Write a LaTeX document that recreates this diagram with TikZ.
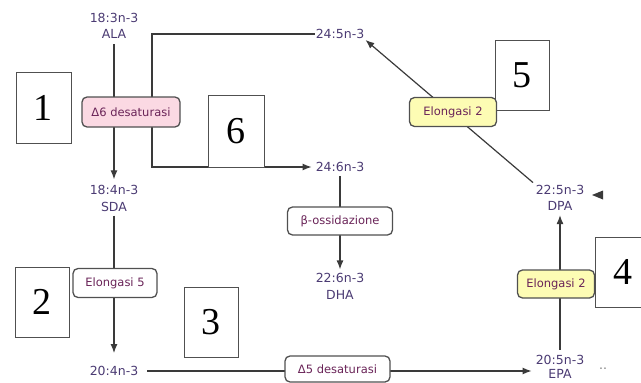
\documentclass[tikz,border=0pt]{standalone}
\usepackage{fontspec}
\setmainfont{Liberation Serif}
\newfontfamily\lblfont{DejaVu Sans}
\usetikzlibrary{arrows.meta}
\definecolor{labelc}{HTML}{4B3B73}
\definecolor{enzc}{HTML}{6A2458}
\definecolor{linec}{HTML}{3A3A3A}
\definecolor{boxline}{HTML}{505050}
\definecolor{pinkf}{HTML}{FBD9E3}
\definecolor{yellowf}{HTML}{FDFCB4}
\tikzset{
  lbl/.style={font=\lblfont\fontsize{12.5}{16.5}\selectfont, text=labelc, align=center, inner sep=1pt},
  enz/.style={draw=boxline, line width=1.3pt, rounded corners=5pt, fill=white,
    font=\lblfont\fontsize{11.5}{13}\selectfont, text=enzc, inner sep=0pt},
  numbox/.style={draw=boxline, line width=0.9pt, fill=white, inner sep=0pt,
    font=\fontsize{38}{40}\selectfont},
  conn/.style={draw=linec, line width=1.2pt},
  arr/.style={conn, -{Latex[length=9pt,width=7pt]}},
}
\begin{document}
\begin{tikzpicture}[x=1pt,y=-1pt]
\useasboundingbox (0,0) rectangle (641,383);
% labels
\node[lbl] (ala) at (114,26) {18:3n-3\\ALA};
\node[lbl] (sda) at (114,198.5) {18:4n-3\\SDA};
\node[lbl] (l204) at (114,371) {20:4n-3};
\node[lbl] (l245) at (340,34) {24:5n-3};
\node[lbl] (l246) at (340,167) {24:6n-3};
\node[lbl] (dha) at (340,286.5) {22:6n-3\\DHA};
\node[lbl, font=\lblfont\fontsize{12.5}{14.5}\selectfont] (epa) at (560,367) {20:5n-3\\EPA};
\node[lbl] (dpa) at (560,198) {22:5n-3\\DPA};
\node[lbl, text=gray] (dots) at (603,369) {..};
\coordinate (c1) at (152,34);
\coordinate (c2) at (152,167);
\coordinate (tip) at (592,195);
% connectors
\draw[arr, shorten <=4pt, shorten >=5pt] (ala.south) -- (sda.north);
\draw[arr, shorten <=3pt, shorten >=12pt] (sda.south) -- (l204.north);
\draw[arr, shorten <=8pt, shorten >=3pt] (l204.east) -- (l204.east -| epa.west);
\draw[arr, shorten <=4pt, shorten >=3pt] (epa.north) -- (dpa.south);
\draw[arr, shorten <=2pt, shorten >=0pt] (dpa.north west) -- (l245.south east);
\draw[arr, shorten >=3pt] (l245.west) -- (c1) -- (c2) -- (l246.west);
\draw[arr, shorten <=3pt, shorten >=3pt] (l246.south) -- (dha.north);
\fill[linec] (tip) -- ++(11,-4.5) -- ++(0,9) -- cycle;
% number boxes (under enzyme boxes)
\node[numbox, minimum width=55, minimum height=71] (n1) at (43.5,107.5) {1};
\node[numbox, minimum width=54, minimum height=70] (n2) at (42,302) {2};
\node[numbox, minimum width=54, minimum height=70] (n3) at (211,322) {3};
\node[numbox, minimum width=54, minimum height=70] (n5) at (522,75) {5};
\node[numbox, minimum width=56, minimum height=72] (n6) at (236,131) {6};
% enzyme boxes
\node[enz, fill=pinkf, minimum width=98, minimum height=30] (d6) at (131,112) {Δ6 desaturasi};
\node[enz, minimum width=84, minimum height=29] (el5) at (115,283) {Elongasi 5};
\node[enz, minimum width=105, minimum height=28] (beta) at (340,221) {β-ossidazione};
\node[enz, minimum width=105, minimum height=26] (d5) at (337.5,369) {Δ5 desaturasi};
\node[enz, fill=yellowf, minimum width=87, minimum height=29] (el2a) at (453,112) {Elongasi 2};
\node[enz, fill=yellowf, minimum width=77, minimum height=28] (el2b) at (556,284) {Elongasi 2};
\node[numbox, minimum width=56, minimum height=70] (n4) at (623,272) {4};
\end{tikzpicture}
\end{document}
